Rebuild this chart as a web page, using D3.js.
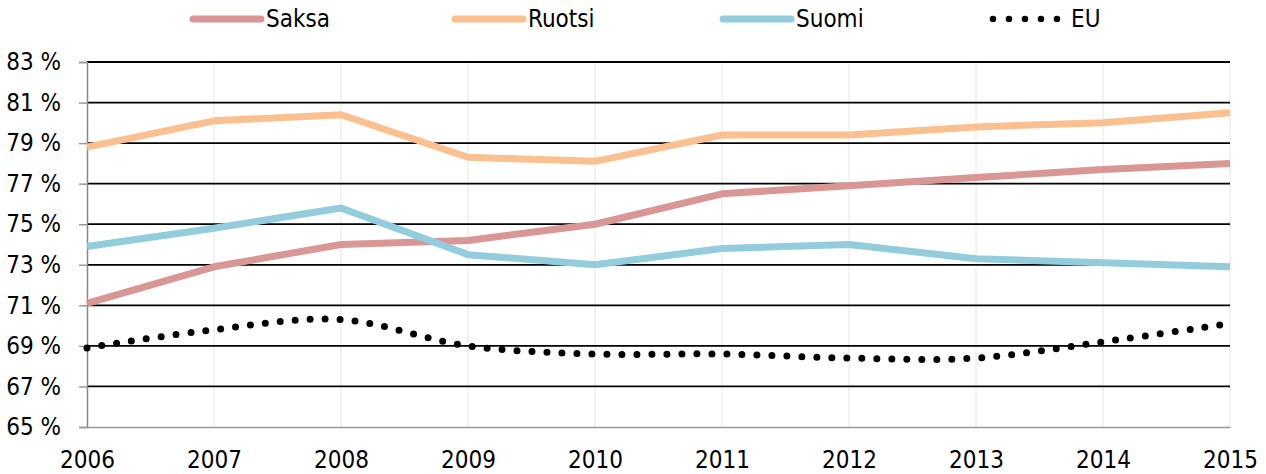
<!DOCTYPE html>
<meta charset="utf-8">
<script src="https://d3js.org/d3.v7.js"></script>
<style>
  body { margin: 0; background: #fff; }
  text { font-family: "DejaVu Sans Condensed", "Liberation Sans Narrow", sans-serif; }
</style>
<div id="chart"></div>
<script>

// data
const years = [2006, 2007, 2008, 2009, 2010, 2011, 2012, 2013, 2014, 2015];
const saksa = [71.1, 72.9, 74.0, 74.2, 75.0, 76.5, 76.9, 77.3, 77.7, 78.0];
const ruotsi = [78.8, 80.1, 80.4, 78.3, 78.1, 79.4, 79.4, 79.8, 80.0, 80.5];
const suomi = [73.9, 74.8, 75.8, 73.5, 73.0, 73.8, 74.0, 73.3, 73.1, 72.9];
const eu = [68.9, 69.8, 70.3, 69.0, 68.6, 68.6, 68.4, 68.4, 69.2, 70.1];
const yTicks = [65, 67, 69, 71, 73, 75, 77, 79, 81, 83];

const series = [
  {name: "Saksa", values: saksa, color: "#d99694"},
  {name: "Ruotsi", values: ruotsi, color: "#fac090"},
  {name: "Suomi", values: suomi, color: "#93cddd"},
  {name: "EU", values: eu, color: "#000", dotted: true}
];

const W = 1266, H = 474;
const margin = {top: 62, right: 36, bottom: 47, left: 87};
const width = W - margin.left - margin.right,
      height = H - margin.top - margin.bottom;

const svg = d3.select("#chart").append("svg")
  .attr("width", W).attr("height", H);
const g = svg.append("g")
  .attr("transform", `translate(${margin.left},${margin.top})`);

const x = d3.scalePoint().domain(years).range([0, width]);
const y = d3.scaleLinear().domain([65, 83]).range([height, 0]);

// vertical grid
g.append("g").selectAll("line")
  .data(years.slice(1))
  .join("line")
    .attr("x1", d => x(d)).attr("x2", d => x(d))
    .attr("y1", 0).attr("y2", height)
    .attr("stroke", "#e6e6e6").attr("stroke-width", 1);

// horizontal grid
g.append("g").selectAll("line")
  .data(yTicks.slice(1))
  .join("line")
    .attr("x1", 0).attr("x2", width)
    .attr("y1", d => y(d)).attr("y2", d => y(d))
    .attr("stroke", "#000").attr("stroke-width", 1.8);

// y axis
const yAxis = g.append("g")
  .call(d3.axisLeft(y).tickValues(yTicks).tickSize(8).tickPadding(18).tickFormat(d => d + " %"));
yAxis.select(".domain").attr("stroke", "#888").attr("stroke-width", 1.5);
yAxis.selectAll(".tick line").attr("stroke", "#999").attr("stroke-width", 1.5);
yAxis.selectAll(".tick text").attr("font-size", 24).attr("fill", "#000")
  .style("font-family", "'DejaVu Sans Condensed', sans-serif");

// x axis
const xAxis = g.append("g")
  .attr("transform", `translate(0,${height})`)
  .call(d3.axisBottom(x).tickSize(0).tickPadding(24));
xAxis.select(".domain").attr("stroke", "#999").attr("stroke-width", 1.5);
xAxis.selectAll(".tick text").attr("font-size", 24).attr("fill", "#000")
  .style("font-family", "'DejaVu Sans Condensed', sans-serif");

// lines
const line = d3.line().x((d, i) => x(years[i])).y(d => y(d));
const smooth = d3.line().x((d, i) => x(years[i])).y(d => y(d)).curve(d3.curveCatmullRom.alpha(0));

series.forEach(s => {
  const p = g.append("path")
    .datum(s.values)
    .attr("fill", "none")
    .attr("stroke", s.color)
    .attr("d", s.dotted ? smooth : line);
  if (s.dotted) {
    p.attr("stroke-width", 7).attr("stroke-linecap", "round").attr("stroke-dasharray", "0 15");
  } else {
    p.attr("stroke-width", 7).attr("stroke-linejoin", "round");
  }
});

// legend
const legendX = [193, 455, 723, 993];
const legend = svg.append("g");
series.forEach((s, i) => {
  const lg = legend.append("g").attr("transform", `translate(${legendX[i]},19)`);
  const l = lg.append("line").attr("y1", 0).attr("y2", 0)
    .attr("stroke", s.color).attr("stroke-linecap", "round");
  if (s.dotted) {
    l.attr("x1", 0).attr("x2", 65).attr("stroke-width", 6.5).attr("stroke-dasharray", "0 16");
    lg.append("text").attr("x", 78).attr("y", 8).attr("font-size", 24).text(s.name);
  } else {
    l.attr("x1", 0).attr("x2", 68).attr("stroke-width", 7);
    lg.append("text").attr("x", 73).attr("y", 8).attr("font-size", 24).text(s.name);
  }
});
</script>
